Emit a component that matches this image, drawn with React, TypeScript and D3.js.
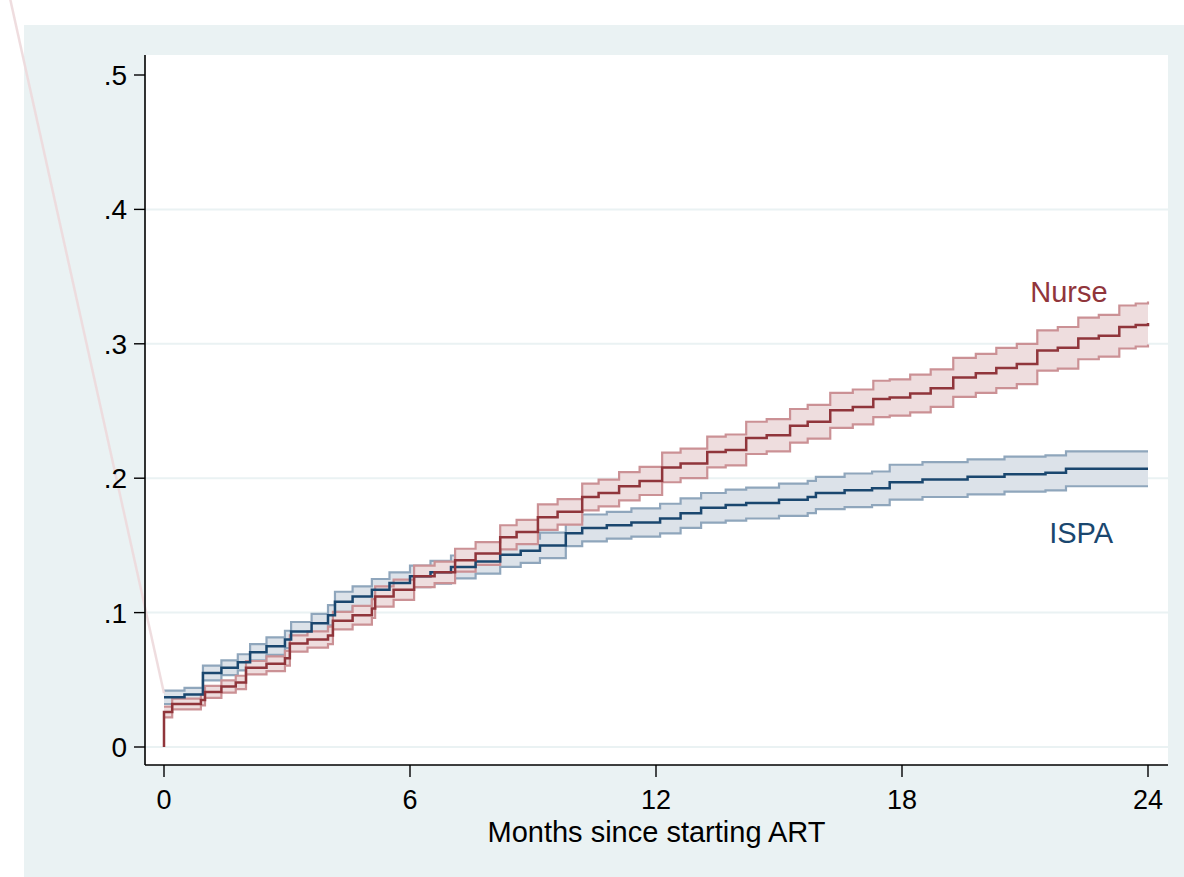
import React from "react";
import * as d3 from "d3";

// ---------- data ----------
const xTicks = [0, 6, 12, 18, 24];
const yTicks = [0, 0.1, 0.2, 0.3, 0.4, 0.5];
const yTickLabels = ["0", ".1", ".2", ".3", ".4", ".5"];
const gridValues = [0, 0.1, 0.2, 0.3, 0.4];
const xTitle = "Months since starting ART";
const originValue = 0;

const nurseTime = [0, 0.2, 0.9, 1.0, 1.4, 1.75, 2.0, 2.5, 2.95, 3.07, 3.5, 4.0, 4.12, 4.6, 5.07, 5.15, 5.6, 6.1, 6.6, 7.1, 7.6, 8.2, 8.6, 9.12, 9.6, 10.2, 10.6, 11.1, 11.6, 12.15, 12.6, 13.25, 13.7, 14.2, 14.7, 15.27, 15.7, 16.25, 16.8, 17.3, 17.7, 18.2, 18.7, 19.25, 19.8, 20.3, 20.8, 21.3, 21.8, 22.3, 22.8, 23.3, 23.7, 24];
const nurseEst = [0.026, 0.032, 0.035, 0.041, 0.045, 0.048, 0.059, 0.062, 0.066, 0.077, 0.08, 0.083, 0.094, 0.098, 0.103, 0.112, 0.117, 0.127, 0.13, 0.139, 0.144, 0.156, 0.16, 0.171, 0.175, 0.186, 0.189, 0.194, 0.198, 0.208, 0.211, 0.2195, 0.221, 0.23, 0.232, 0.239, 0.242, 0.2505, 0.253, 0.259, 0.26, 0.263, 0.267, 0.275, 0.278, 0.282, 0.285, 0.295, 0.297, 0.304, 0.306, 0.3125, 0.314, 0.3155];
const nurseLo = [0.022, 0.028, 0.031, 0.0365, 0.0405, 0.043, 0.054, 0.0565, 0.0605, 0.071, 0.074, 0.0765, 0.0875, 0.091, 0.096, 0.1045, 0.1095, 0.119, 0.122, 0.1305, 0.1355, 0.147, 0.151, 0.1615, 0.1655, 0.176, 0.179, 0.1835, 0.1875, 0.197, 0.2, 0.208, 0.2095, 0.218, 0.22, 0.2265, 0.2295, 0.2375, 0.24, 0.2455, 0.2465, 0.249, 0.253, 0.2605, 0.2635, 0.267, 0.27, 0.28, 0.2815, 0.2885, 0.2905, 0.2965, 0.298, 0.2995];
const nurseHi = [0.03, 0.036, 0.039, 0.0455, 0.0495, 0.053, 0.064, 0.0675, 0.0715, 0.083, 0.086, 0.0895, 0.1005, 0.105, 0.11, 0.1195, 0.1245, 0.135, 0.138, 0.1475, 0.1525, 0.165, 0.169, 0.1805, 0.1845, 0.196, 0.199, 0.2045, 0.2085, 0.219, 0.222, 0.231, 0.2325, 0.242, 0.244, 0.2515, 0.2545, 0.2635, 0.266, 0.2725, 0.2735, 0.277, 0.281, 0.2895, 0.2925, 0.297, 0.3, 0.31, 0.3125, 0.3195, 0.3215, 0.3285, 0.33, 0.3315];

const ispaTime = [0, 0.5, 0.95, 1.4, 1.8, 2.1, 2.5, 2.95, 3.1, 3.6, 4.0, 4.17, 4.6, 5.07, 5.5, 6.0, 6.5, 7.0, 7.6, 8.2, 8.7, 9.17, 9.8, 10.2, 10.8, 11.4, 12.1, 12.6, 13.1, 13.7, 14.2, 15.0, 15.7, 15.9, 16.6, 17.27, 17.7, 18.5, 19.6, 20.5, 21.5, 22.0, 24];
const ispaEst = [0.037, 0.039, 0.055, 0.059, 0.063, 0.0705, 0.075, 0.08, 0.086, 0.092, 0.098, 0.108, 0.112, 0.117, 0.122, 0.127, 0.13, 0.134, 0.138, 0.143, 0.146, 0.15, 0.159, 0.163, 0.165, 0.167, 0.17, 0.174, 0.178, 0.18, 0.1815, 0.184, 0.186, 0.189, 0.191, 0.1925, 0.197, 0.199, 0.201, 0.203, 0.204, 0.207, 0.207];
const ispaLo = [0.032, 0.034, 0.0495, 0.0535, 0.057, 0.0645, 0.0685, 0.0735, 0.079, 0.085, 0.0905, 0.1005, 0.1045, 0.109, 0.114, 0.119, 0.1215, 0.1255, 0.129, 0.134, 0.137, 0.1405, 0.1495, 0.153, 0.155, 0.1565, 0.159, 0.163, 0.167, 0.1685, 0.17, 0.172, 0.174, 0.177, 0.1785, 0.18, 0.184, 0.186, 0.188, 0.19, 0.191, 0.194, 0.194];
const ispaHi = [0.042, 0.044, 0.0605, 0.0645, 0.069, 0.0765, 0.0815, 0.0865, 0.093, 0.099, 0.1055, 0.1155, 0.1195, 0.125, 0.13, 0.135, 0.1385, 0.1425, 0.147, 0.152, 0.155, 0.1595, 0.1685, 0.173, 0.175, 0.1775, 0.181, 0.185, 0.189, 0.1915, 0.193, 0.196, 0.198, 0.201, 0.2035, 0.205, 0.21, 0.212, 0.214, 0.216, 0.217, 0.22, 0.22];

// stray rendering artifact visible in the reference (data coords)
const artifactT = [-3.85, 0];
const artifactV = [0.57, 0.04];

const labels = [
  { text: "Nurse", t: 22.07, v: 0.3385, color: "#90353B" },
  { text: "ISPA", t: 22.37, v: 0.159, color: "#1A476F" },
];

type Row = { t: number; e: number; lo: number; hi: number };
const rows = (T: number[], E: number[], L: number[], H: number[]): Row[] =>
  T.map((t, i) => ({ t, e: E[i], lo: L[i], hi: H[i] }));

const nurse = rows(nurseTime, nurseEst, nurseLo, nurseHi);
const ispa = rows(ispaTime, ispaEst, ispaLo, ispaHi);

// ---------- layout ----------
const W = 1184;
const H = 877;
const plotL = 145;
const plotR = 1168;
const plotT = 55;
const plotB = 765;

const x = d3.scaleLinear().domain([0, 24]).range([164, 1148]);
const y = d3.scaleLinear().domain([0, 0.5]).range([747, 75]);

const FONT = "'Liberation Sans', Arial, Helvetica, sans-serif";

export default function App() {
  const band = d3
    .area<Row>()
    .curve(d3.curveStepAfter)
    .x((d) => x(d.t))
    .y0((d) => y(d.lo))
    .y1((d) => y(d.hi));
  const mk = (f: (d: Row) => number) =>
    d3.line<Row>().curve(d3.curveStepAfter).x((d) => x(d.t)).y((d) => y(f(d)));
  const estLine = mk((d) => d.e);
  const loLine = mk((d) => d.lo);
  const hiLine = mk((d) => d.hi);

  const series = [
    { data: ispa, fill: "#DCE2E9", edge: "#8FA6BC", line: "#1A476F" },
    { data: nurse, fill: "#EEDDDE", edge: "#CB9195", line: "#90353B" },
  ];

  const nurseWithOrigin: Row[] = [
    { t: nurse[0].t, e: originValue, lo: originValue, hi: originValue },
    ...nurse,
  ];

  const artifact = d3.line<number>()
    .x((_, i) => x(artifactT[i]))
    .y((v) => y(v))(artifactV) as string;

  return (
    <div style={{ position: "absolute", left: 0, top: 0 }}>
      <svg width={W} height={H} style={{ display: "block" }}>
        <rect x={0} y={0} width={W} height={H} fill="#ffffff" />
        <rect x={24} y={25} width={W - 24} height={H - 25} fill="#EAF2F3" />
        <rect x={plotL} y={plotT} width={plotR - plotL} height={plotB - plotT} fill="#ffffff" />

        {gridValues.map((g) => (
          <line key={g} x1={plotL} x2={plotR} y1={y(g)} y2={y(g)} stroke="#EAF2F3" strokeWidth={2} />
        ))}

        {series.map((s, i) => (
          <g key={"b" + i}>
            <path d={band(s.data) as string} fill={s.fill} stroke="none" />
            <path d={loLine(s.data) as string} fill="none" stroke={s.edge} strokeWidth={2.2} />
            <path d={hiLine(s.data) as string} fill="none" stroke={s.edge} strokeWidth={2.2} />
          </g>
        ))}

        <path d={estLine(ispa) as string} fill="none" stroke="#1A476F" strokeWidth={2.5} />
        <path d={estLine(nurseWithOrigin) as string} fill="none" stroke="#90353B" strokeWidth={2.5} />

        <path d={artifact} fill="none" stroke="#EDD9DB" strokeWidth={2.5} opacity={0.9} />

        {/* axes */}
        <line x1={plotL} x2={plotL} y1={plotT} y2={plotB} stroke="#000" strokeWidth={1.6} />
        <line x1={plotL} x2={plotR} y1={plotB} y2={plotB} stroke="#000" strokeWidth={1.6} />

        {yTicks.map((t, i) => (
          <g key={"y" + t}>
            <line x1={134} x2={plotL} y1={y(t)} y2={y(t)} stroke="#000" strokeWidth={1.4} />
            <text x={127} y={y(t) + 10} textAnchor="end" fontFamily={FONT} fontSize={28} fill="#000">
              {yTickLabels[i]}
            </text>
          </g>
        ))}

        {xTicks.map((t) => (
          <g key={"x" + t}>
            <line x1={x(t)} x2={x(t)} y1={plotB} y2={777} stroke="#000" strokeWidth={1.4} />
            <text x={x(t)} y={809} textAnchor="middle" fontFamily={FONT} fontSize={27} fill="#000">
              {t}
            </text>
          </g>
        ))}

        <text x={(plotL + plotR) / 2} y={842} textAnchor="middle" fontFamily={FONT} fontSize={29} fill="#000">
          {xTitle}
        </text>

        {labels.map((l) => (
          <text
            key={l.text}
            x={x(l.t)}
            y={y(l.v) + 10}
            textAnchor="middle"
            fontFamily={FONT}
            fontSize={29}
            fill={l.color}
          >
            {l.text}
          </text>
        ))}
      </svg>
    </div>
  );
}
